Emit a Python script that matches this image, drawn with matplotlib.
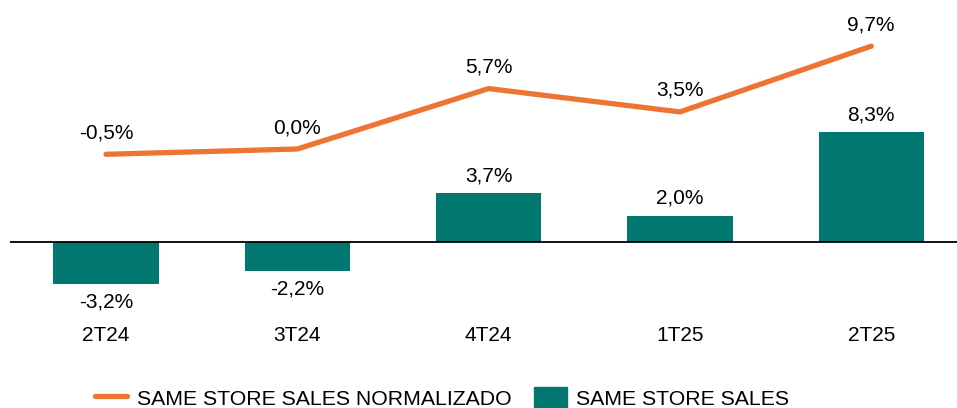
import matplotlib
matplotlib.use("Agg")
import matplotlib.pyplot as plt
from matplotlib.lines import Line2D
from matplotlib.patches import Patch

# Data
quarters = ["2T24", "3T24", "4T24", "1T25", "2T25"]
sss = [-3.2, -2.2, 3.7, 2.0, 8.3]
sss_norm = [-0.5, 0.0, 5.7, 3.5, 9.7]

TEAL = "#007870"
ORANGE = "#ED7433"

plt.rcParams["font.family"] = ["Liberation Sans", "DejaVu Sans"]
FS = 15

W, H = 957, 408
fig = plt.figure(figsize=(W / 100, H / 100), dpi=100)

# axes geometry in pixels
top_px, bot_px = 20, 300
left_px, width_px = 10.4, 956.5
ax = fig.add_axes([left_px / W, 1 - bot_px / H, width_px / W, (bot_px - top_px) / H])
ax2 = ax.twinx()

x = list(range(len(quarters)))

# bars on primary axis: 0 at y=242 px, 13.25 px per %
s1 = 13.25
ax.set_ylim(-(bot_px - 242) / s1, (242 - top_px) / s1)
ax.bar(x, sss, width=0.55, color=TEAL, zorder=2)
ax.axhline(0, color="black", linewidth=1.3, zorder=3)
ax.set_xlim(-0.5, 4.5)

for xi, v in zip(x, sss):
    lab = f"{v:.1f}%".replace(".", ",")
    if v >= 0:
        ax.annotate(lab, (xi, v), xytext=(0, 8.5), textcoords="offset points",
                    ha="center", va="baseline", fontsize=FS)
    else:
        ax.annotate(lab, (xi, v), xytext=(0, -6), textcoords="offset points",
                    ha="center", va="top", fontsize=FS)

# line on secondary axis: 0 at y=149 px, 10.6 px per %
s2 = 10.6
ax2.set_ylim(-(bot_px - 149) / s2, (149 - top_px) / s2)
ax2.plot(x, sss_norm, color=ORANGE, linewidth=3.8, solid_capstyle="round",
         solid_joinstyle="round", zorder=4)
for xi, v in zip(x, sss_norm):
    lab = f"{v:.1f}%".replace(".", ",")
    ax2.annotate(lab, (xi, v), xytext=(0, 11.5), textcoords="offset points",
                 ha="center", va="baseline", fontsize=FS)

for a in (ax, ax2):
    for sp in a.spines.values():
        sp.set_visible(False)
    a.set_yticks([])
ax.set_xticks(x)
ax.set_xticklabels(quarters, fontsize=FS)
ax.tick_params(axis="x", length=0, pad=19)

handles = [
    Line2D([0], [0], color=ORANGE, linewidth=3.8, solid_capstyle="round"),
    Patch(facecolor=TEAL, edgecolor=TEAL),
]
fig.legend(handles, ["SAME STORE SALES NORMALIZADO", "SAME STORE SALES"],
           loc="center", bbox_to_anchor=(442 / W, 1 - 398 / H), ncol=2,
           frameon=False, handlelength=1.55, handleheight=1.05, columnspacing=1.05,
           handletextpad=0.45, borderpad=0.1,
           prop={"family": ["Liberation Sans Narrow", "Liberation Sans"], "size": 15.3})

fig.savefig("out.png", dpi=100)
